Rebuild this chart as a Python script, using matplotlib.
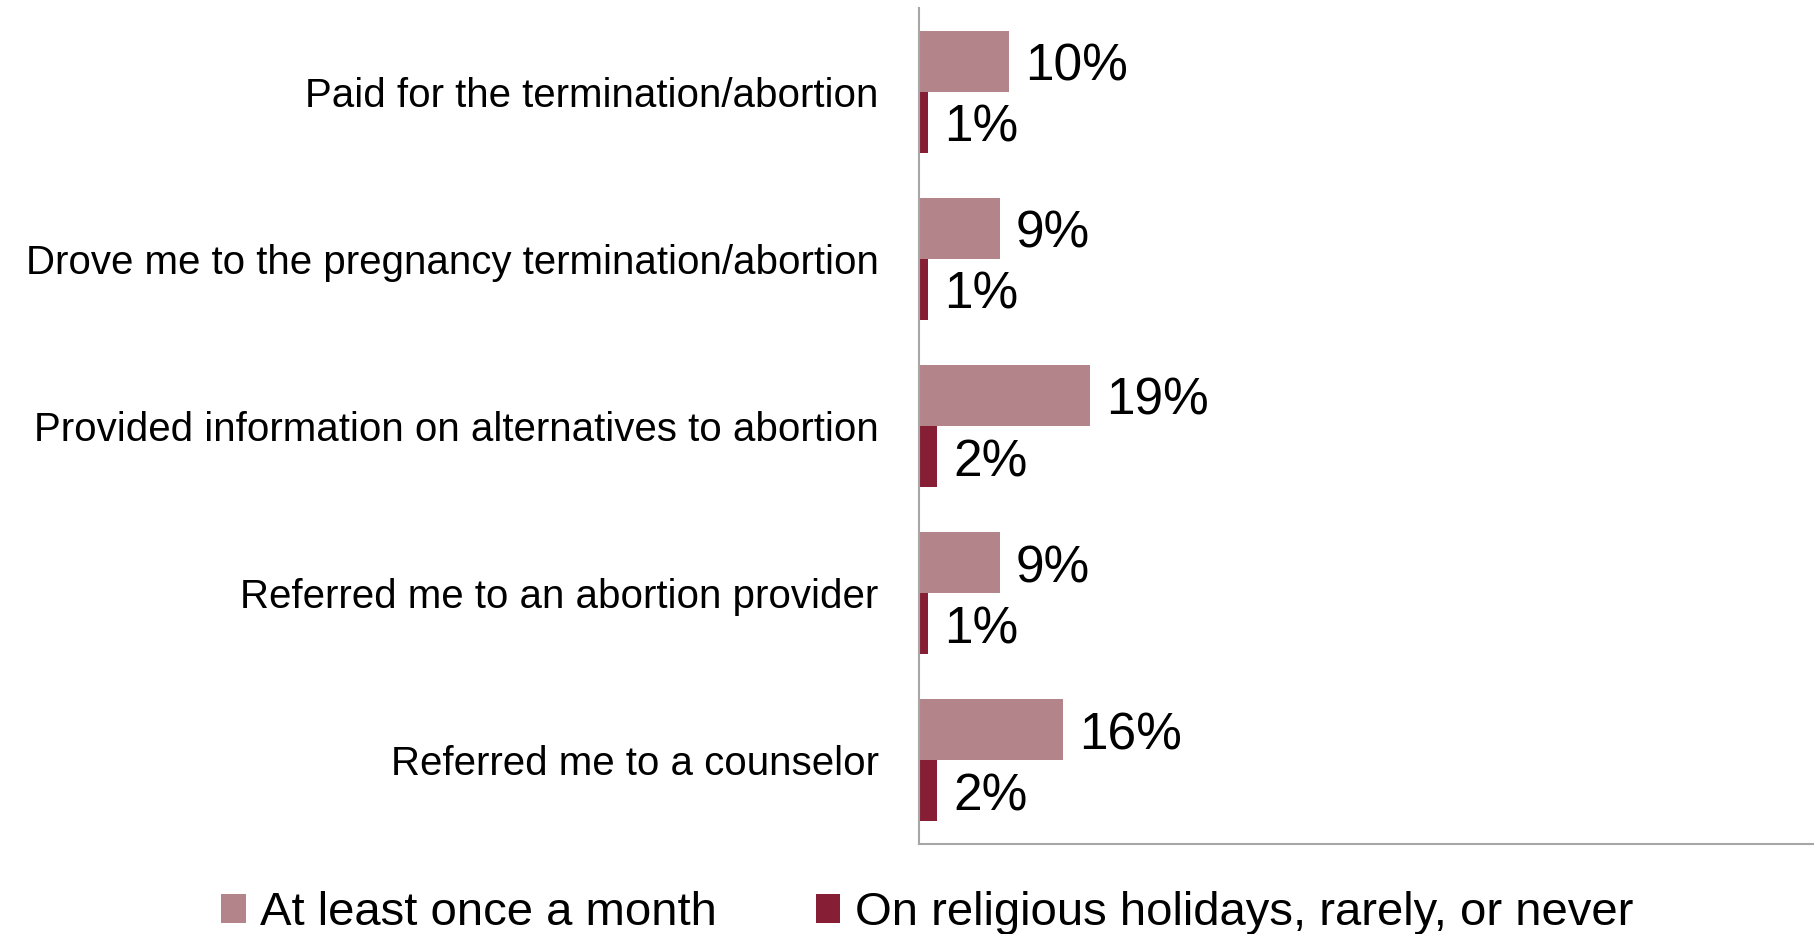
import matplotlib
matplotlib.use("Agg")
import matplotlib.pyplot as plt
import numpy as np

plt.rcParams['font.family'] = ['Liberation Sans', 'DejaVu Sans']

categories = [
    "Paid for the termination/abortion",
    "Drove me to the pregnancy termination/abortion",
    "Provided information on alternatives to abortion",
    "Referred me to an abortion provider",
    "Referred me to a counselor",
]
monthly = [0.10, 0.09, 0.19, 0.09, 0.16]
rarely = [0.01, 0.01, 0.02, 0.01, 0.02]
series_names = ["At least once a month", "On religious holidays, rarely, or never"]
colors = ["#B3858A", "#861F36"]

fig = plt.figure(figsize=(18.14, 9.34), dpi=100)
ax = fig.add_axes([919/1814, 1-844/934, 1 - 919/1814, (844-8)/934])

y = np.arange(len(categories))
h = 0.365
b1 = ax.barh(y - h/2, monthly, height=h, color=colors[0], label=series_names[0])
b2 = ax.barh(y + h/2, rarely, height=h, color=colors[1], label=series_names[1])

for bars, vals in ((b1, monthly), (b2, rarely)):
    for rect, v in zip(bars, vals):
        ax.annotate(f"{int(round(v*100))}%", (rect.get_width(), rect.get_y() + rect.get_height()/2),
                    xytext=(16, -6), textcoords="offset pixels",
                    va="center", ha="left", fontsize=37, color="black")

ax.set_ylim(len(categories) - 0.5, -0.5)
ax.set_xlim(0, 895/900)
ax.set_yticks(y)
ax.set_yticklabels(categories, fontsize=29)
ax.tick_params(axis='y', length=0, pad=29)
ax.set_xticks([])
for s in ("top", "right"):
    ax.spines[s].set_visible(False)
for s in ("left", "bottom"):
    ax.spines[s].set_color("#A6A6A6")
    ax.spines[s].set_linewidth(1.5)

fig.legend(handles=[b1, b2], labels=series_names, loc="center",
           bbox_to_anchor=(927/1814, 1 - 913/934), ncol=2, frameon=False,
           fontsize=34, handlelength=0.52, handleheight=0.56, handletextpad=0.3,
           columnspacing=2.1, borderpad=0)

fig.savefig("out.png", dpi=100)
